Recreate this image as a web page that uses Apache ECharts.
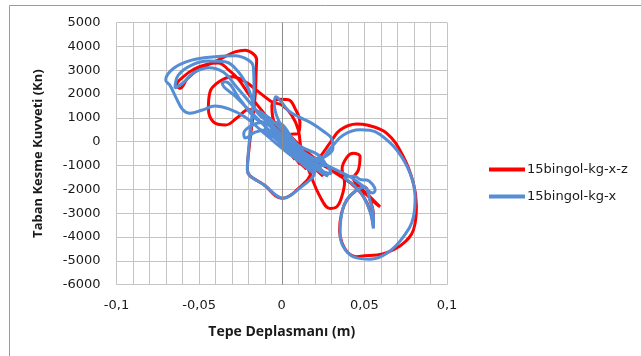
<!DOCTYPE html>
<html>
<head>
<meta charset="utf-8">
<script src="https://cdn.jsdelivr.net/npm/echarts@6/dist/echarts.min.js"></script>
<style>
  html, body { margin: 0; padding: 0; background: #ffffff; }
  #chart { width: 641px; height: 356px; }
</style>
</head>
<body>
<div id="chart"></div>
<script>
// Base shear vs. top displacement hysteresis (x in m, y in kN)
const seriesNames = ['15bingol-kg-x-z', '15bingol-kg-x'];
const seriesColors = ['#ff0000', '#558ed5'];

const xTicks = [-0.1, -0.05, 0, 0.05, 0.1];
const yTicks = [-6000, -5000, -4000, -3000, -2000, -1000, 0, 1000, 2000, 3000, 4000, 5000];

// 15bingol-kg-x-z : [displacement, base shear]
const redPath = [
  [0.000, 0], [0.005, -450], [-0.003, 300], [0.008, -750], [-0.006, 650],
  [0.011, -950], [0.001, 150], [-0.008, 950], [0.004, -350], [0.015, -1150],
  [0.007, -450], [-0.004, 700],
  [-0.006, 1500], [-0.002, 1780], [0.004, 1760], [0.008, 1400], [0.011, 800],
  [0.010, 350], [0.005, 300], [0.012, -500], [0.020, -1100], [0.025, -1450],
  [0.018, -1000], [0.008, -300], [-0.002, 500], [-0.010, 1100],
  [-0.020, 1350], [-0.027, 1000], [-0.034, 700], [-0.0414, 830], [-0.0444, 1400],
  [-0.0434, 2090], [-0.038, 2510], [-0.030, 2720], [-0.022, 2510], [-0.014, 2090],
  [-0.006, 1670], [0.000, 1535], [0.006, 1115], [0.010, 500], [0.012, -400],
  [0.0171, -1330], [0.0232, -2310], [0.0292, -2800], [0.0333, -2730], [0.0363, -2310],
  [0.038, -1700], [0.0365, -1150], [0.0395, -650], [0.0434, -490], [0.0474, -633],
  [0.0464, -1190], [0.0434, -1540], [0.048, -1950], [0.054, -2350], [0.0595, -2730],
  [0.057, -2600], [0.050, -2150], [0.040, -1650], [0.030, -1200], [0.020, -700],
  [0.010, -100], [0.000, 600], [-0.008, 1000], [0.004, -200], [0.012, -700],
  [0.018, -1200], [0.008, -2100], [0.000, -2370], [-0.010, -1850], [-0.0208, -1180],
  [-0.0195, -100], [-0.0175, 1000], [-0.016, 2000], [-0.0155, 2900], [-0.0152, 3450],
  [-0.0175, 3700], [-0.0222, 3840], [-0.0283, 3770], [-0.035, 3550], [-0.042, 3300],
  [-0.050, 3050], [-0.057, 2650], [-0.0616, 2240], [-0.0636, 2380], [-0.060, 2700],
  [-0.053, 3050], [-0.045, 3250], [-0.0384, 3300], [-0.032, 3000], [-0.026, 2600],
  [-0.020, 2000], [-0.012, 1300], [-0.004, 600], [0.006, -300], [0.015, -900],
  [0.022, -700], [0.0292, -50], [0.0353, 486], [0.0454, 740], [0.0514, 700],
  [0.0636, 350], [0.0736, -630], [0.0797, -1750], [0.0815, -2700], [0.0797, -3700],
  [0.073, -4300], [0.0636, -4650], [0.0575, -4755], [0.050, -4790], [0.0454, -4826],
  [0.040, -4650], [0.0365, -4250], [0.035, -3750], [0.0362, -3000], [0.0393, -2450],
  [0.045, -2050], [0.050, -1900], [0.0535, -2450], [0.0555, -3100], [0.0555, -3600],
  [0.0535, -2900], [0.049, -2250], [0.042, -1750], [0.032, -1250], [0.020, -800],
  [0.010, -200], [0.000, 400], [-0.005, 800], [0.006, -300], [0.016, -1000],
  [0.008, -500], [-0.002, 300], [0.004, -100], [0.000, 0]
];

// 15bingol-kg-x : [displacement, base shear]
const bluePath = [
  [0.000, 0], [0.004, -350], [-0.003, 350], [0.008, -700], [-0.005, 600],
  [0.010, -850], [0.001, 50], [-0.008, 900], [0.004, -250], [0.014, -1050],
  [0.006, -400], [-0.004, 550],
  [-0.012, 800], [-0.019, 650], [-0.023, 350], [-0.022, 150], [-0.016, 400],
  [-0.008, 500], [0.000, 0], [0.010, -600], [0.018, -1150],
  [0.008, -300], [-0.002, 900], [-0.0045, 1600], [-0.0035, 1890], [0.000, 1650],
  [0.004, 1300], [0.010, 1050], [0.018, 780], [0.025, 450], [0.030, 150],
  [0.031, -250], [0.028, -550], [0.022, -700], [0.015, -600], [0.005, -100],
  [-0.008, 700], [-0.016, 980], [-0.025, 1750], [-0.0343, 2510], [-0.036, 2450],
  [-0.028, 1900], [-0.018, 1200], [-0.008, 500], [0.004, -300], [0.012, -800],
  [0.020, -1250],
  [0.010, -2000], [0.001, -2370], [-0.010, -1850], [-0.0208, -1190], [-0.0198, -100],
  [-0.018, 1100], [-0.0168, 2300], [-0.0172, 3140], [-0.0202, 3420], [-0.0283, 3600],
  [-0.0404, 3560], [-0.0545, 3420], [-0.0656, 3070], [-0.0702, 2580], [-0.0675, 2350],
  [-0.064, 1850], [-0.060, 1350], [-0.0555, 1190], [-0.048, 1330], [-0.0404, 1500],
  [-0.032, 1380], [-0.0222, 1040], [-0.013, 500], [-0.003, -100], [0.008, -700],
  [0.016, -1000],
  [0.006, -100], [-0.006, 700], [-0.0151, 1250], [-0.0202, 2230], [-0.0263, 2930],
  [-0.0343, 3350], [-0.0444, 3380], [-0.0545, 3210], [-0.0626, 2790], [-0.0646, 2250],
  [-0.060, 2450], [-0.053, 2900], [-0.044, 3100], [-0.035, 2900], [-0.028, 2350],
  [-0.020, 1700], [-0.010, 900], [0.000, 200], [0.010, -500], [0.020, -900],
  [0.0303, -210], [0.0373, 280], [0.0474, 500], [0.0534, 480], [0.0595, 300],
  [0.0696, -350], [0.0777, -1330], [0.0807, -2310], [0.0797, -3150], [0.0736, -3990],
  [0.0636, -4680], [0.0535, -4930], [0.0434, -4830], [0.0373, -4410], [0.0353, -3850],
  [0.0363, -3010], [0.0393, -2450], [0.0454, -2030], [0.050, -1900], [0.0535, -2500],
  [0.0555, -3100], [0.0555, -3640], [0.0535, -2950], [0.0494, -2310], [0.044, -1850],
  [0.038, -1500],
  [0.044, -1450], [0.048, -1600], [0.0514, -1610], [0.055, -1800], [0.0565, -2030],
  [0.055, -2150], [0.050, -1900], [0.042, -1500], [0.032, -1150], [0.022, -800],
  [0.010, -300], [0.000, 300], [-0.006, 700], [0.005, -200], [0.012, -600],
  [0.020, -1000], [0.026, -1300], [0.016, -700], [0.004, 0], [-0.010, 1000],
  [-0.004, 500], [0.008, -400], [0.018, -900], [0.024, -1100], [0.012, -500],
  [-0.012, 1150], [0.002, 100], [0.022, -1200], [0.028, -1450], [0.014, -500],
  [-0.006, 900], [-0.014, 1300], [0.000, 300], [0.016, -650], [0.026, -900],
  [0.030, -1350], [0.020, -1100], [0.006, -300], [-0.010, 600], [-0.003, 800],
  [0.010, -150], [0.022, -550], [0.027, -1000], [0.017, -950], [0.003, -50],
  [-0.008, 400], [0.006, -500], [0.019, -1300], [0.011, -850], [0.000, 0]
];

const chart = echarts.init(document.getElementById('chart'), null, { renderer: 'canvas' });

const textColor = '#1a1a1a';
const gridColor = '#c4c4c4';

function xLabel(v) {
  const n = Math.round(v * 100);
  const t = xTicks.find(k => Math.round(k * 100) === n);
  if (t === undefined) return '';
  return String(t).replace('.', ',');
}

function yLabel(v) {
  return String(Math.round(v));
}

chart.setOption({
  animation: false,
  backgroundColor: '#ffffff',
  graphic: [{
    type: 'rect',
    shape: { x: 9.5, y: 5.5, width: 700, height: 400 },
    style: { fill: 'none', stroke: '#9a9a9a', lineWidth: 1 },
    silent: true
  }],
  grid: { left: 116.5, right: 194, top: 22.5, bottom: 71.3, containLabel: false },
  legend: {
    orient: 'vertical',
    left: 484,
    top: 158,
    itemWidth: 36,
    itemHeight: 4,
    itemGap: 14,
    icon: 'rect',
    textStyle: { fontFamily: 'DejaVu Sans', fontSize: 13, color: textColor, padding: [0, 0, 0, -3] },
    data: seriesNames
  },
  xAxis: {
    type: 'value',
    min: xTicks[0],
    max: xTicks[xTicks.length - 1],
    interval: 0.01,
    name: 'Tepe Deplasmanı (m)',
    nameLocation: 'middle',
    nameGap: 40,
    nameTextStyle: { fontFamily: 'Open Sans', fontWeight: 'bold', fontSize: 14, color: textColor },
    axisLine: { show: false },
    axisTick: { show: false },
    axisLabel: {
      fontFamily: 'DejaVu Sans', fontSize: 13, color: textColor, margin: 14,
      showMinLabel: true, showMaxLabel: true,
      formatter: xLabel
    },
    splitLine: { show: true, lineStyle: { color: gridColor, width: 1 } }
  },
  yAxis: {
    type: 'value',
    min: yTicks[0],
    max: yTicks[yTicks.length - 1],
    interval: 1000,
    name: 'Taban Kesme Kuvveti (Kn)',
    nameLocation: 'middle',
    nameGap: 72,
    nameTextStyle: { fontFamily: 'Open Sans', fontWeight: 'bold', fontSize: 13, color: textColor },
    axisLine: { show: false },
    axisTick: { show: false },
    axisLabel: { fontFamily: 'DejaVu Sans', fontSize: 13, color: textColor, margin: 16, formatter: yLabel },
    splitLine: { show: true, lineStyle: { color: gridColor, width: 1 } }
  },
  series: [
    {
      name: seriesNames[0],
      type: 'line',
      data: redPath,
      showSymbol: false,
      symbol: 'none',
      smooth: 0.4,
      color: seriesColors[0],
      lineStyle: { color: seriesColors[0], width: 3 },
      z: 2,
      markLine: {
        silent: true,
        symbol: 'none',
        label: { show: false },
        lineStyle: { color: '#8c8c8c', width: 1, type: 'solid' },
        data: [{ xAxis: 0 }]
      }
    },
    {
      name: seriesNames[1],
      type: 'line',
      data: bluePath,
      showSymbol: false,
      symbol: 'none',
      smooth: 0.4,
      color: seriesColors[1],
      lineStyle: { color: seriesColors[1], width: 3 },
      z: 3
    }
  ]
});
</script>
</body>
</html>
